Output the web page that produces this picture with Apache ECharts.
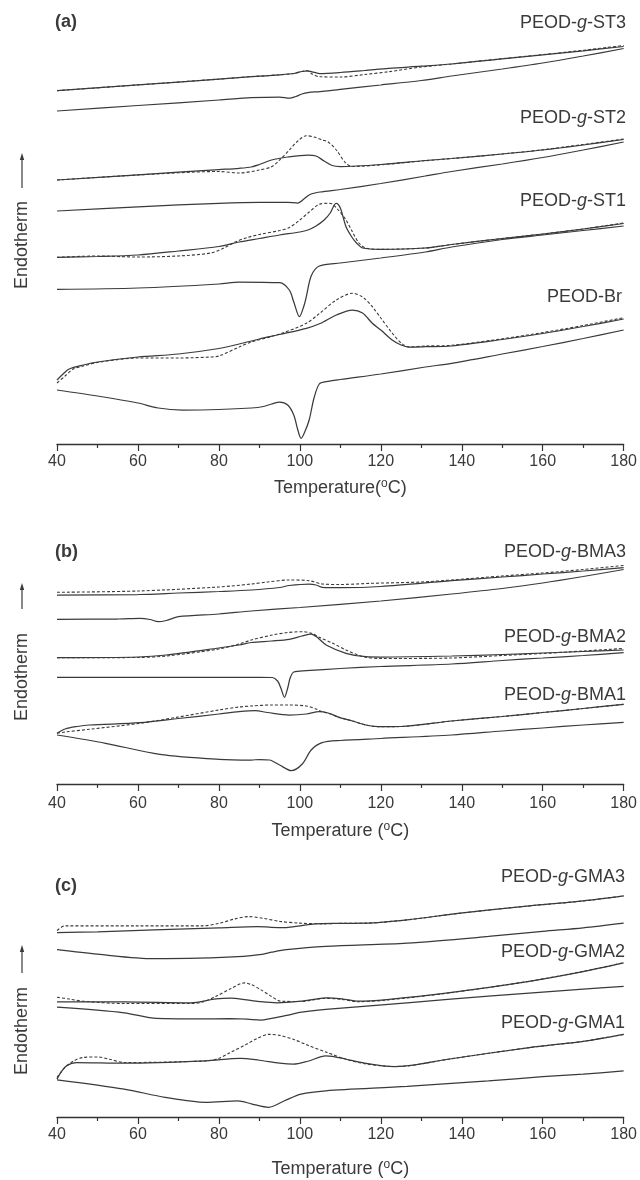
<!DOCTYPE html>
<html>
<head>
<meta charset="utf-8">
<script src="https://cdn.jsdelivr.net/npm/echarts@6/dist/echarts.min.js"></script>
<style>
  html, body { margin: 0; padding: 0; background: #fff; }
  #chart { width: 640px; height: 1180px; }
</style>
</head>
<body>
<div id="chart"></div>
<script>
// ---------- DATA : [temperature (°C), heat flow (a.u., offset curves)] ----------
const X_MIN = 40, X_MAX = 180, X_STEP = 20;

// Panel (a)
const a_ST3_h = [[40,35.33],[60,35.91],[80,36.49],[88,36.73],[95,36.92],[98.5,37.05],[100.5,37.25],[101.8,37.32],[103,37.22],[104.8,37.05],[110,37.15],[116,37.35],[122,37.57],[130,37.78],[137.5,38.0],[150,38.51],[160,38.91],[170,39.32],[180,39.75]];
const a_ST3_d = [[40,35.33],[60,35.91],[80,36.49],[88,36.73],[95,36.92],[98.5,37.05],[100.5,37.25],[101.8,37.32],[103,37.0],[104.8,36.73],[110,36.7],[116,36.95],[122,37.23],[130,37.7],[137.5,38.0],[150,38.53],[160,38.94],[170,39.37],[180,39.85]];
const a_ST3_c = [[40,33.3],[60,33.85],[80,34.4],[88,34.63],[95,34.7],[97.5,34.58],[99,34.75],[100.5,35.0],[102,35.14],[105,35.24],[110,35.47],[120,35.9],[130,36.35],[137.5,36.8],[150,37.5],[160,38.1],[170,38.8],[180,39.55]];

const a_ST2_h = [[40,26.4],[60,26.92],[80,27.44],[85,27.57],[88,27.7],[90,27.95],[93,28.4],[97,28.7],[102,28.9],[104,28.8],[106,28.3],[108,27.85],[110,27.75],[120,27.95],[131,28.35],[137.5,28.55],[150,29.0],[160,29.4],[170,29.9],[180,30.45]];
const a_ST2_d = [[40,26.4],[60,26.9],[80,27.25],[85,27.1],[90,27.4],[93,27.73],[95,28.4],[97.4,29.4],[99.5,30.3],[101.6,30.83],[103.5,30.7],[105.5,30.4],[107,30.2],[109,29.4],[111.4,28.07],[113,27.75],[120,27.92],[131,28.33],[137.5,28.55],[150,29.0],[160,29.43],[170,29.95],[180,30.5]];
const a_ST2_c = [[40,23.3],[60,23.72],[80,24.07],[90,24.17],[97,24.17],[99.5,24.1],[101,24.5],[102.5,24.95],[105,25.2],[110,25.45],[120,26.05],[131,26.8],[137.5,27.25],[150,28.0],[160,28.65],[170,29.4],[180,30.2]];

const a_ST1_h = [[40,18.67],[50,18.75],[60,18.9],[70,19.3],[80,19.75],[85,20.2],[90,20.55],[95,20.9],[100,21.2],[102,21.4],[104,21.8],[106,22.4],[107.5,23.1],[108.5,23.9],[109,24.07],[110,23.6],[111.4,21.73],[113,20.6],[114,20.1],[115.5,19.6],[120,19.47],[131,19.6],[137.5,19.95],[150,20.55],[160,21.0],[170,21.5],[180,22.05]];
const a_ST1_d = [[40,18.67],[50,18.8],[60,18.7],[70,18.8],[78,19.1],[81,19.55],[84,20.2],[87,20.65],[90,20.95],[95,21.35],[97.4,21.65],[100,22.4],[102.3,23.2],[104.8,23.97],[107,24.07],[108,24.0],[109.5,23.4],[111.4,22.4],[113,21.2],[114.6,20.1],[116.3,19.6],[120,19.47],[131,19.6],[137.5,19.95],[150,20.55],[160,21.0],[170,21.5],[180,22.1]];
const a_ST1_c = [[40,15.47],[60,15.6],[80,16.0],[85,16.2],[95,16.13],[97.4,15.4],[98.5,14.2],[99.9,12.73],[101,13.8],[101.6,14.73],[102.8,16.8],[104.8,17.8],[110,18.1],[120,18.6],[131,19.2],[137.5,19.7],[150,20.45],[160,20.9],[170,21.35],[180,21.8]];

const a_Br_h = [[40,6.4],[41.5,7.0],[43,7.5],[46.5,7.9],[50,8.2],[60,8.7],[70,9.0],[80,9.55],[85,10.0],[90,10.5],[95,10.95],[101.6,11.57],[105,12.05],[109,12.9],[113,13.4],[115.5,13.1],[117.9,12.07],[120,11.4],[122.8,10.4],[125,9.9],[127,9.7],[131,9.73],[137.5,9.8],[150,10.45],[160,11.05],[170,11.75],[180,12.5]];
const a_Br_d = [[40,6.1],[42,6.8],[44,7.5],[46.5,7.8],[50,8.15],[60,8.6],[70,8.6],[78,8.7],[80,8.8],[85,9.7],[88,10.2],[95,11.0],[101.6,12.07],[105,13.1],[109,14.4],[113,15.07],[115.5,14.7],[117.9,13.73],[120,12.6],[122.8,11.1],[125,10.1],[127,9.7],[131,9.8],[137.5,9.87],[150,10.52],[160,11.14],[170,11.85],[180,12.63]];
const a_Br_c = [[40,5.4],[50,4.8],[60,4.1],[65,3.6],[71,3.4],[80,3.45],[88,3.6],[91,3.75],[93,4.0],[95,4.2],[97,3.9],[98.5,2.9],[99.5,1.4],[100.3,0.57],[101.2,1.2],[102.3,2.4],[103.5,4.6],[104.8,6.0],[106.5,6.23],[110,6.45],[120,7.0],[131,7.7],[137.5,8.07],[150,9.0],[160,9.75],[170,10.55],[180,11.4]];

// Panel (b)
const b_BMA3_h = [[40,18.9],[60,18.95],[70,19.1],[80,19.25],[88,19.4],[95,19.65],[97.4,19.85],[102.3,20.0],[104,19.9],[105.5,19.67],[110,19.63],[120,19.75],[137.5,20.33],[150,20.7],[160,21.0],[170,21.3],[180,21.63]];
const b_BMA3_d = [[40,19.17],[60,19.3],[80,19.7],[88,20.0],[92,20.2],[97.4,20.4],[102.3,20.33],[105.5,20.0],[110,19.95],[117.9,20.07],[130,20.2],[137.5,20.4],[150,20.8],[160,21.1],[170,21.45],[180,21.85]];
const b_BMA3_c = [[40,16.47],[55,16.5],[60.5,16.57],[63,16.45],[65,16.23],[67,16.35],[70,16.73],[80,17.0],[88,17.3],[100,17.65],[120,18.3],[137.5,19.0],[150,19.55],[160,20.1],[170,20.75],[180,21.45]];

const b_BMA2_h = [[40,12.63],[60,12.7],[67,12.9],[80,13.6],[85,13.9],[88,14.15],[93,14.3],[97.4,14.47],[100.5,14.8],[102.8,15.0],[104.5,14.6],[106.5,13.9],[111.4,13.07],[116.3,12.73],[120,12.7],[137.5,12.8],[150,12.95],[160,13.1],[170,13.25],[180,13.4]];
const b_BMA2_d = [[40,12.63],[60,12.65],[67,12.8],[80,13.5],[85,14.0],[88,14.4],[93.2,14.9],[97,15.15],[100.6,15.23],[103,15.05],[104.8,14.67],[108,14.1],[111.4,13.4],[114,12.95],[116.3,12.67],[120,12.55],[137.5,12.6],[150,12.85],[160,13.05],[170,13.3],[180,13.55]];
const b_BMA2_c = [[40,10.67],[80,10.67],[90,10.67],[93.2,10.65],[94.5,10.3],[95.3,9.6],[96.2,8.67],[97,9.6],[97.6,10.6],[98.5,11.2],[101.6,11.33],[110,11.55],[120,11.75],[137.5,12.0],[150,12.35],[160,12.6],[170,12.85],[180,13.13]];

const b_BMA1_h = [[40,5.07],[42,5.5],[45,5.75],[48,5.9],[60.5,6.13],[70,6.55],[80,7.0],[85,7.23],[89,7.33],[92,7.15],[97.4,6.9],[101.6,7.0],[104.8,7.23],[107,7.1],[109.7,6.67],[113,6.3],[116.3,5.9],[119.5,5.73],[125,5.75],[137.5,6.3],[150,6.75],[160,7.15],[170,7.55],[180,7.97]];
const b_BMA1_d = [[40,5.07],[42,5.2],[48,5.47],[60.5,6.07],[70,6.7],[80,7.4],[85,7.7],[88,7.8],[93,7.9],[97,7.9],[101.6,7.8],[104,7.5],[105.5,7.23],[108,6.95],[109.7,6.67],[113,6.3],[116.3,5.9],[119.5,5.73],[125,5.75],[137.5,6.3],[150,6.75],[160,7.15],[170,7.55],[180,7.97]];
const b_BMA1_c = [[40,4.9],[52,4.07],[65.4,2.97],[80,2.47],[88,2.4],[90,2.45],[92.5,2.4],[95,1.9],[97.9,1.33],[100.6,2.0],[102.8,3.4],[105.5,4.13],[110,4.35],[120,4.55],[137.5,4.9],[150,5.3],[160,5.6],[170,5.9],[180,6.17]];

// Panel (c)
const c_GMA3_h = [[40,18.53],[50,18.6],[64,18.8],[80,19.0],[89.5,19.13],[93,19.05],[96.7,19.03],[100,19.2],[103.7,19.4],[110,19.45],[116.4,19.47],[126.5,19.8],[139.6,20.47],[156.7,21.2],[170,21.7],[180,22.2]];
const c_GMA3_d = [[40,18.73],[42,19.2],[60,19.2],[76,19.2],[80,19.45],[84,19.9],[87.3,20.13],[91,19.95],[95,19.65],[100,19.47],[106,19.4],[110,19.45],[116.4,19.47],[126.5,19.8],[139.6,20.47],[156.7,21.2],[170,21.7],[180,22.2]];
const c_GMA3_c = [[40,16.8],[50,16.35],[64,15.9],[75,15.95],[86,16.13],[90,16.3],[93,16.55],[96.7,16.8],[106.4,17.13],[126.5,17.47],[146.6,18.13],[160,18.65],[170,19.0],[180,19.47]];

const c_GMA2_h = [[40,11.57],[56.6,11.57],[73,11.47],[79.3,11.87],[83,11.95],[86.3,11.8],[90,11.6],[94.3,11.47],[100.3,11.63],[104,11.85],[106.4,11.97],[110.4,11.87],[114.4,11.63],[121.5,11.8],[136.6,12.47],[156.7,13.63],[170,14.6],[180,15.47]];
const c_GMA2_d = [[40,12.03],[43,11.85],[46.3,11.63],[56.6,11.4],[73,11.4],[76,11.55],[79.3,12.13],[83,12.9],[86.3,13.47],[88,13.3],[90.3,12.8],[93,12.1],[95.3,11.63],[100,11.6],[106.4,11.92],[110.4,11.82],[114.4,11.58],[121.5,11.75],[136.6,12.45],[156.7,13.63],[170,14.63],[180,15.5]];
const c_GMA2_c = [[40,11.03],[56.6,10.47],[64.6,9.9],[75,9.85],[82.7,9.87],[87,9.82],[90.3,9.73],[93,9.9],[96.7,10.2],[100,10.5],[106.4,10.8],[126.5,11.47],[146.6,12.13],[160,12.55],[170,12.85],[180,13.13]];

const c_GMA1_h = [[40,3.8],[41,4.5],[42.3,5.13],[44.8,5.47],[56.6,5.4],[76.7,5.63],[85.3,5.9],[90,5.7],[95,5.4],[98.4,5.3],[102,5.6],[106.4,6.13],[108,6.1],[111.4,5.8],[116,5.4],[120.5,5.13],[123.5,5.07],[128,5.2],[136.6,5.8],[156.7,6.97],[170,7.6],[180,8.3]];
const c_GMA1_d = [[40,3.97],[42,5.0],[44,5.6],[46.3,5.97],[50,6.03],[53,5.8],[56.6,5.47],[76.7,5.63],[80,5.9],[82.8,6.47],[86.8,7.3],[89.5,7.9],[92.3,8.3],[95,8.2],[98.4,7.8],[102,7.2],[106.4,6.53],[111.4,5.8],[116,5.35],[120.5,5.13],[123.5,5.07],[128,5.2],[136.6,5.8],[156.7,6.97],[170,7.6],[180,8.3]];
const c_GMA1_c = [[40,3.73],[56.6,2.8],[66.7,1.97],[76.7,1.47],[84.7,1.63],[88.2,1.3],[92.3,0.97],[96.2,1.63],[100.3,2.3],[106.4,2.63],[126.5,3.07],[146.6,3.63],[160,4.05],[170,4.3],[180,4.63]];

// Sample labels per panel
const labels_a = ['ST3', 'ST2', 'ST1'];
const labels_b = ['BMA3', 'BMA2', 'BMA1'];
const labels_c = ['GMA3', 'GMA2', 'GMA1'];

// ---------- CHART ----------
const FONT = "'Liberation Sans', Arial, Helvetica, sans-serif";
const INK = '#3a3a3a';
const chart = echarts.init(document.getElementById('chart'), null, { renderer: 'canvas' });

const panels = [
  { top: 44,  height: 400, ymax: 40, margin: 10, nameGap: 34, name: 'Temperature({sup|o}C)' },
  { top: 564, height: 220, ymax: 22, margin: 12, nameGap: 37, name: 'Temperature ({sup|o}C)' },
  { top: 888, height: 230, ymax: 23, margin: 10, nameGap: 42, name: 'Temperature ({sup|o}C)' }
];

const grids = panels.map(p => ({ left: 57, right: 14, top: p.top, height: p.height }));
const xAxes = panels.map((p, i) => ({
  type: 'value', gridIndex: i, min: X_MIN, max: X_MAX, interval: X_STEP,
  name: p.name, nameLocation: 'middle', nameGap: p.nameGap,
  nameTextStyle: { fontFamily: FONT, fontSize: 18, lineHeight: 20, color: INK,
    rich: { sup: { fontFamily: FONT, fontSize: 12, lineHeight: 11, color: INK, verticalAlign: 'top' } } },
  axisLine: { show: true, onZero: false, lineStyle: { color: '#333', width: 1.3 } },
  axisTick: { show: true, inside: false, length: 7, lineStyle: { color: '#333', width: 1.2 } },
  minorTick: { show: true, splitNumber: 2, length: 4, lineStyle: { color: '#333', width: 1.2 } },
  axisLabel: { fontFamily: FONT, fontSize: 16, color: INK, margin: p.margin },
  splitLine: { show: false }, minorSplitLine: { show: false }
}));
const yAxes = panels.map((p, i) => ({ type: 'value', gridIndex: i, min: 0, max: p.ymax, show: false }));

function curve(data, g, dashed) {
  return {
    type: 'line', xAxisIndex: g, yAxisIndex: g, data: data,
    showSymbol: false, symbol: 'none', smooth: 0.3, clip: false, silent: true,
    z: dashed ? 3 : 2,
    lineStyle: { color: INK, width: dashed ? 1.1 : 1.25, type: dashed ? [3, 2] : 'solid' }
  };
}

const series = [
  curve(a_ST3_h, 0), curve(a_ST3_c, 0), curve(a_ST3_d, 0, true),
  curve(a_ST2_h, 0), curve(a_ST2_c, 0), curve(a_ST2_d, 0, true),
  curve(a_ST1_h, 0), curve(a_ST1_c, 0), curve(a_ST1_d, 0, true),
  curve(a_Br_h, 0),  curve(a_Br_c, 0),  curve(a_Br_d, 0, true),
  curve(b_BMA3_h, 1), curve(b_BMA3_c, 1), curve(b_BMA3_d, 1, true),
  curve(b_BMA2_h, 1), curve(b_BMA2_c, 1), curve(b_BMA2_d, 1, true),
  curve(b_BMA1_h, 1), curve(b_BMA1_c, 1), curve(b_BMA1_d, 1, true),
  curve(c_GMA3_h, 2), curve(c_GMA3_c, 2), curve(c_GMA3_d, 2, true),
  curve(c_GMA2_h, 2), curve(c_GMA2_c, 2), curve(c_GMA2_d, 2, true),
  curve(c_GMA1_h, 2), curve(c_GMA1_c, 2), curve(c_GMA1_d, 2, true)
];

const richLbl = { i: { fontFamily: FONT, fontSize: 18, fontStyle: 'italic', fill: INK } };
function sampleLabel(suffix, x, y) {
  return { type: 'text', x: x, y: y, silent: true,
    style: { text: 'PEOD-{i|g}-' + suffix, fontFamily: FONT, fontSize: 18, fill: INK,
      align: 'right', verticalAlign: 'middle', rich: richLbl } };
}
function plainText(t, x, y, bold, align) {
  return { type: 'text', x: x, y: y, silent: true,
    style: { text: t, fontFamily: FONT, fontSize: 18, fontWeight: bold ? 'bold' : 'normal',
      fill: INK, align: align || 'left', verticalAlign: 'middle' } };
}
function endotherm(cy, tipY, tailY) {
  return [
    { type: 'text', x: 22, y: cy, rotation: Math.PI / 2, silent: true,
      style: { text: 'Endotherm', fontFamily: FONT, fontSize: 18, fill: INK, align: 'center', verticalAlign: 'middle' } },
    { type: 'line', silent: true, shape: { x1: 22, y1: tailY, x2: 22, y2: tipY + 4 },
      style: { stroke: INK, lineWidth: 1.2 } },
    { type: 'polygon', silent: true, shape: { points: [[19.8, tipY + 7], [22, tipY], [24.2, tipY + 7]] },
      style: { fill: INK } }
  ];
}

const graphic = [
  plainText('(a)', 55, 22, true),
  sampleLabel(labels_a[0], 626, 23),
  sampleLabel(labels_a[1], 626, 118),
  sampleLabel(labels_a[2], 626, 201),
  plainText('PEOD-Br', 622, 297, false, 'right'),
  plainText('(b)', 55, 552, true),
  sampleLabel(labels_b[0], 626, 552),
  sampleLabel(labels_b[1], 626, 637),
  sampleLabel(labels_b[2], 626, 695),
  plainText('(c)', 55, 886, true),
  sampleLabel(labels_c[0], 625, 877),
  sampleLabel(labels_c[1], 625, 952),
  sampleLabel(labels_c[2], 625, 1023),
  ...endotherm(245, 153, 188),
  ...endotherm(677, 583, 609),
  ...endotherm(1031, 945, 973)
];

chart.setOption({
  animation: false,
  backgroundColor: '#ffffff',
  grid: grids, xAxis: xAxes, yAxis: yAxes,
  series: series,
  graphic: graphic
});
</script>
</body>
</html>
